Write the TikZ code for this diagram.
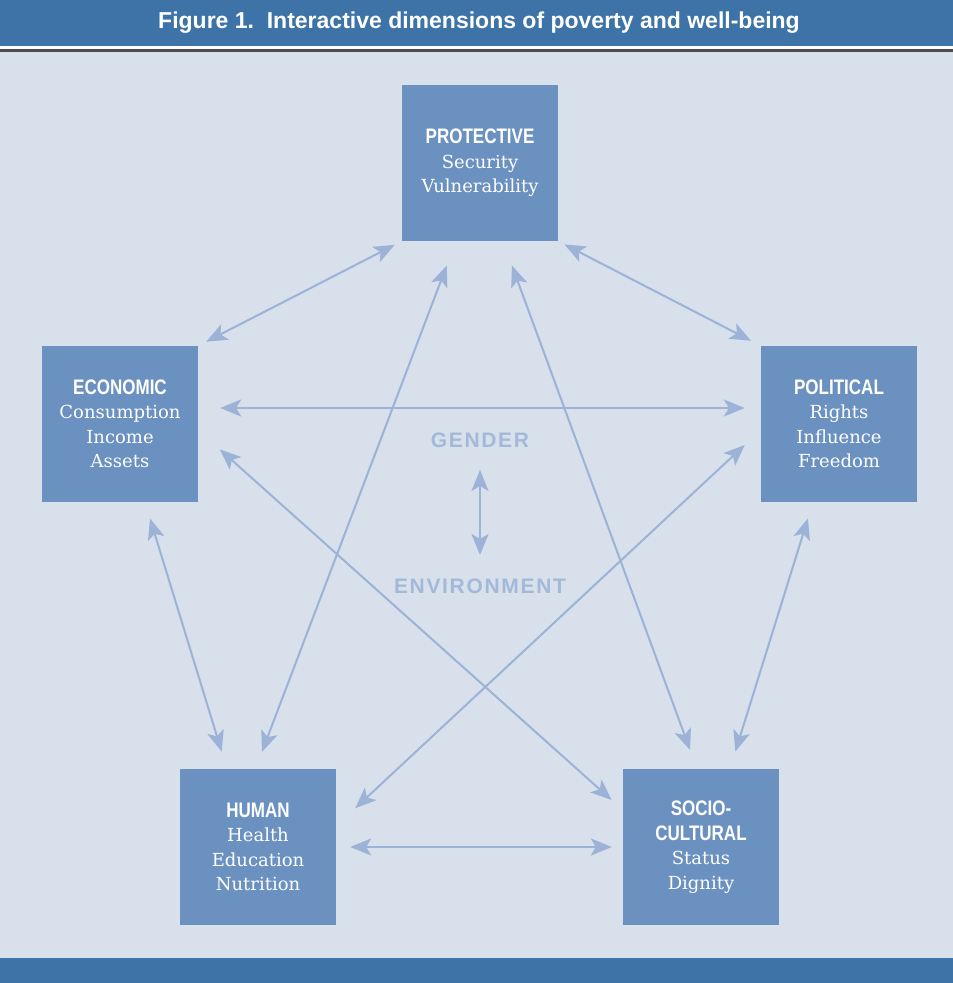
\documentclass[tikz,border=0pt]{standalone}
\usepackage{fontspec}
\setmainfont{DejaVu Serif}
\newfontfamily\headfont[FakeStretch=0.81]{Liberation Sans}
\newfontfamily\titlefont{Liberation Sans}
\newfontfamily\midfont[LetterSpace=8]{Liberation Sans}
\usetikzlibrary{arrows.meta}
\definecolor{barblue}{HTML}{3E73A8}
\definecolor{paleback}{HTML}{D7E0EB}
\definecolor{boxblue}{HTML}{6B91C0}
\definecolor{linkblue}{HTML}{9CB3D7}
\definecolor{wordblue}{HTML}{A4B9D8}

\begin{document}
\begin{tikzpicture}[x=1pt,y=1pt,
    dimbox/.style={fill=boxblue,minimum width=156pt,minimum height=156pt,inner sep=0pt,
      text=white,align=center,font=\fontsize{18}{24.5}\selectfont},
    link/.style={draw=linkblue,line width=2pt,
      {Stealth[length=21pt,width=17pt,inset=5pt]}-{Stealth[length=21pt,width=17pt,inset=5pt]}},
    factor/.style={text=wordblue,font=\midfont\bfseries\fontsize{21}{24}\selectfont}]
      \useasboundingbox (0,0) rectangle (953,-983);
      \fill[white] (0,0) rectangle (953,-983);
      \fill[barblue] (0,0) rectangle (953,-46);
      \fill[black!70] (0,-49) rectangle (953,-51.5);
      \fill[paleback] (0,-52) rectangle (953,-958);
      \fill[barblue] (0,-958) rectangle (953,-983);
      \node[text=white,font=\titlefont\bfseries\fontsize{23}{26}\selectfont] (title) at (479,-23)
        {Figure 1.\ \ Interactive dimensions of poverty and well-being};

      \node[dimbox] (prot) at (480,-163) {{\headfont\bfseries\fontsize{21}{24.5}\selectfont PROTECTIVE}\\Security\\Vulnerability};
      \node[dimbox] (econ) at (120,-424) {{\headfont\bfseries\fontsize{21}{24.5}\selectfont ECONOMIC}\\Consumption\\Income\\Assets};
      \node[dimbox] (pol) at (839,-424) {{\headfont\bfseries\fontsize{21}{24.5}\selectfont POLITICAL}\\Rights\\Influence\\Freedom};
      \node[dimbox] (hum) at (258,-847) {{\headfont\bfseries\fontsize{21}{24.5}\selectfont HUMAN}\\Health\\Education\\Nutrition};
      \node[dimbox] (soc) at (701,-847) {{\headfont\bfseries\fontsize{21}{24.5}\selectfont SOCIO-}\\{\headfont\bfseries\fontsize{21}{24.5}\selectfont CULTURAL}\\Status\\Dignity};

      \node[factor] (gender) at (480,-440) {GENDER};
      \node[factor] (env) at (480,-586) {ENVIRONMENT};

      \draw[link,shorten <=8pt,shorten >=9pt] (prot.south west) -- (econ.north east);
      \draw[link,shorten <=7pt,shorten >=11pt] (prot.south east) -- (pol.north west);
      \draw[link,shorten <=22pt,shorten >=16pt] ([yshift=16pt]econ.east) -- ([yshift=16pt]pol.west);
      \draw[link,shorten <=26pt,shorten >=18pt] ([xshift=-24pt]prot.south) -- ([xshift=-2.5pt]hum.north);
      \draw[link,shorten <=26pt,shorten >=20pt] ([xshift=23pt]prot.south) -- ([xshift=-4pt]soc.north);
      \draw[link,shorten <=17pt,shorten >=18pt] ([xshift=25pt]econ.south) -- ([xshift=-31pt]hum.north);
      \draw[link,shorten <=29pt,shorten >=15pt] ([yshift=-6pt]econ.east) -- ([yshift=37pt]soc.west);
      \draw[link,shorten <=22pt,shorten >=26pt] ([yshift=-6pt]pol.west) -- ([yshift=21pt]hum.east);
      \draw[link,shorten <=17pt,shorten >=18pt] ([xshift=-26pt]pol.south) -- ([xshift=29pt]soc.north);
      \draw[link,shorten <=14pt,shorten >=11pt] (hum.east) -- (soc.west);
      \draw[link,shorten <=19pt,shorten >=20pt] (gender) -- (env);
    \end{tikzpicture}
\end{document}
